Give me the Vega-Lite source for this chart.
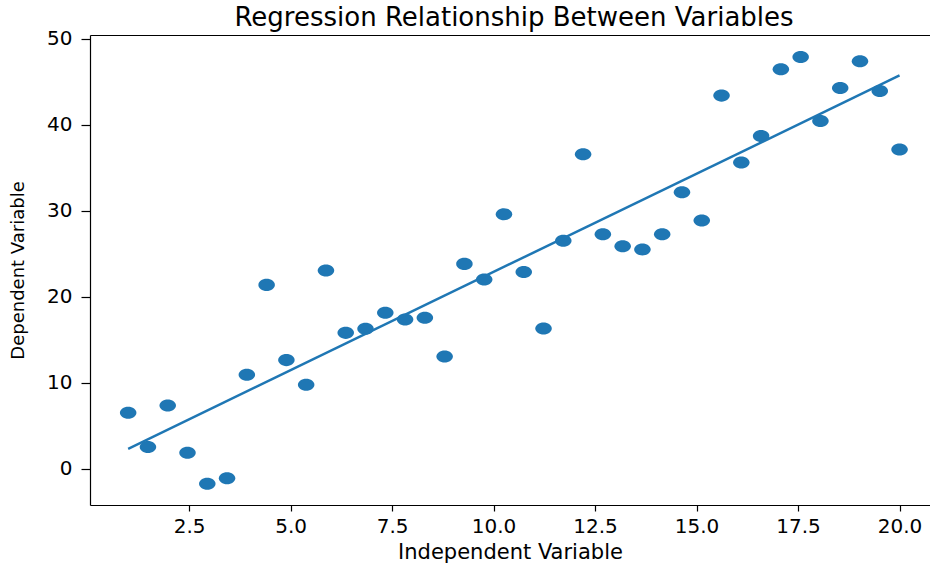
{
  "$schema": "https://vega.github.io/schema/vega-lite/v6.json",
  "width": 840,
  "height": 470,
  "autosize": {"type": "none"},
  "padding": {"left": 90, "top": 35, "right": 0, "bottom": 61},
  "background": "white",
  "title": {"text": "Regression Relationship Between Variables", "fontSize": 26, "font": "DejaVu Sans", "fontWeight": "normal", "color": "black", "anchor": "middle", "offset": -2, "dx": 4},
  "config": {
    "view": {"stroke": null},
    "axis": {"grid": false, "domainColor": "black", "domainWidth": 1.2, "tickColor": "black", "tickWidth": 1.2, "labelColor": "black", "labelFont": "DejaVu Sans", "labelFontSize": 20, "titleFont": "DejaVu Sans", "titleFontWeight": "normal", "titleColor": "black"}
  },
  "data": {"values": [
    {"x": 1.0, "y": 6.49}, {"x": 1.4872, "y": 2.5}, {"x": 1.9744, "y": 7.34}, {"x": 2.4615, "y": 1.84},
    {"x": 2.9487, "y": -1.77}, {"x": 3.4359, "y": -1.14}, {"x": 3.9231, "y": 10.9}, {"x": 4.4103, "y": 21.36},
    {"x": 4.8974, "y": 12.61}, {"x": 5.3846, "y": 9.74}, {"x": 5.8718, "y": 23.03}, {"x": 6.359, "y": 15.78},
    {"x": 6.8462, "y": 16.25}, {"x": 7.3333, "y": 18.11}, {"x": 7.8205, "y": 17.34}, {"x": 8.3077, "y": 17.53},
    {"x": 8.7949, "y": 13.04}, {"x": 9.2821, "y": 23.8}, {"x": 9.7692, "y": 21.99}, {"x": 10.2564, "y": 29.58},
    {"x": 10.7436, "y": 22.85}, {"x": 11.2308, "y": 16.29}, {"x": 11.7179, "y": 26.48}, {"x": 12.2051, "y": 36.55},
    {"x": 12.6923, "y": 27.25}, {"x": 13.1795, "y": 25.86}, {"x": 13.6667, "y": 25.48}, {"x": 14.1538, "y": 27.25},
    {"x": 14.641, "y": 32.14}, {"x": 15.1282, "y": 28.85}, {"x": 15.6154, "y": 43.37}, {"x": 16.1026, "y": 35.59},
    {"x": 16.5897, "y": 38.68}, {"x": 17.0769, "y": 46.43}, {"x": 17.5641, "y": 47.86}, {"x": 18.0513, "y": 40.42},
    {"x": 18.5385, "y": 44.26}, {"x": 19.0256, "y": 47.36}, {"x": 19.5128, "y": 43.91}, {"x": 20.0, "y": 37.1}
  ]},
  "resolve": {"axis": {"x": "independent"}},
  "layer": [
    {
      "mark": {"type": "point", "filled": true, "shape": "M -1 0 A 1 0.73 0 1 0 1 0 A 1 0.73 0 1 0 -1 0 Z", "size": 272, "color": "#1f77b4", "opacity": 1, "strokeWidth": 0},
      "encoding": {
        "x": {"field": "x", "type": "quantitative", "scale": {"domain": [0.06, 20.75], "nice": false, "zero": false},
              "axis": {"orient": "bottom", "values": [2.5, 5, 7.5, 10, 12.5, 15, 17.5, 20], "format": ".1f", "tickSize": 6, "labelPadding": 5, "title": "Independent Variable", "titleFontSize": 21, "titlePadding": 5}},
        "y": {"field": "y", "type": "quantitative", "scale": {"domain": [-4.24, 50.42], "nice": false, "zero": false},
              "axis": {"values": [0, 10, 20, 30, 40, 50], "tickSize": 9, "labelPadding": 9, "title": "Dependent Variable", "titleFontSize": 18, "titlePadding": 19}}
      }
    },
    {
      "transform": [{"regression": "y", "on": "x"}],
      "mark": {"type": "line", "color": "#1f77b4", "strokeWidth": 2.5},
      "encoding": {
        "x": {"field": "x", "type": "quantitative", "scale": {"domain": [0.06, 20.75], "nice": false, "zero": false},
              "axis": {"orient": "top", "labels": false, "ticks": false, "domain": true, "title": null}},
        "y": {"field": "y", "type": "quantitative"}
      }
    }
  ]
}
